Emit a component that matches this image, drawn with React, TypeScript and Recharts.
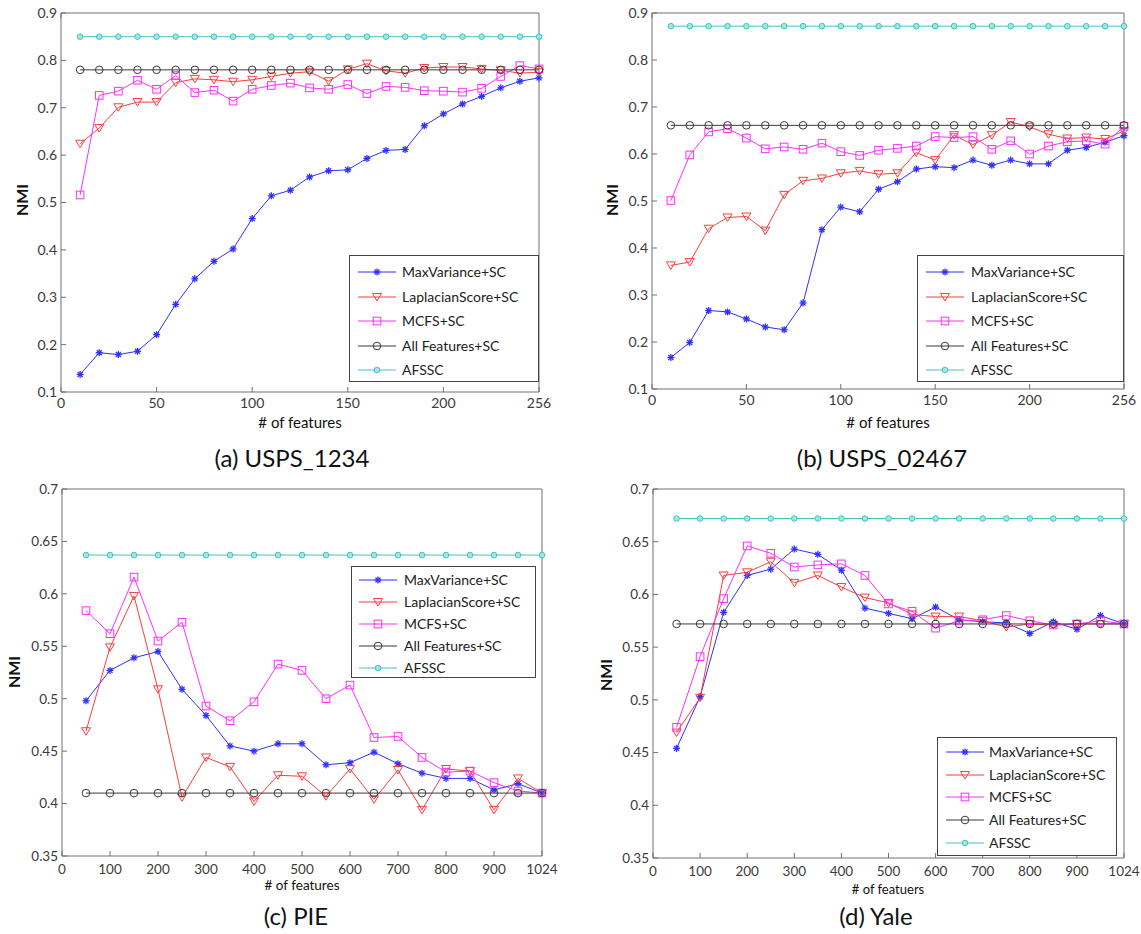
import React from "react";
import { LineChart, Line, XAxis, YAxis } from "recharts";

// feature counts on the x axis (last point = all features, drawn at the right edge)
const featuresUsps = [10, 20, 30, 40, 50, 60, 70, 80, 90, 100, 110, 120, 130, 140, 150, 160, 170, 180, 190, 200, 210, 220, 230, 240, 250];
const featuresFace = [50, 100, 150, 200, 250, 300, 350, 400, 450, 500, 550, 600, 650, 700, 750, 800, 850, 900, 950, 1000];

const uspsXTicks = [0, 50, 100, 150, 200, 250];
const uspsXTickLabels = ["0", "50", "100", "150", "200", "256"];
const faceXTicks = [0, 100, 200, 300, 400, 500, 600, 700, 800, 900, 1000];
const faceXTickLabels = ["0", "100", "200", "300", "400", "500", "600", "700", "800", "900", "1024"];
const uspsYTicks = [0.1, 0.2, 0.3, 0.4, 0.5, 0.6, 0.7, 0.8, 0.9];
const uspsYTickLabels = ["0.1", "0.2", "0.3", "0.4", "0.5", "0.6", "0.7", "0.8", "0.9"];
const faceYTicks = [0.35, 0.4, 0.45, 0.5, 0.55, 0.6, 0.65, 0.7];
const faceYTickLabels = ["0.35", "0.4", "0.45", "0.5", "0.55", "0.6", "0.65", "0.7"];

// (a) USPS_1234
const a_maxVar = [0.137, 0.183, 0.179, 0.186, 0.221, 0.285, 0.339, 0.376, 0.402, 0.466, 0.514, 0.526, 0.554, 0.567, 0.569, 0.593, 0.61, 0.612, 0.662, 0.687, 0.708, 0.724, 0.742, 0.756, 0.763];
const a_laplacian = [0.624, 0.657, 0.701, 0.712, 0.712, 0.753, 0.761, 0.759, 0.755, 0.759, 0.766, 0.773, 0.776, 0.756, 0.781, 0.793, 0.778, 0.773, 0.784, 0.786, 0.786, 0.782, 0.779, 0.773, 0.775];
const a_mcfs = [0.516, 0.726, 0.735, 0.758, 0.739, 0.768, 0.732, 0.737, 0.714, 0.739, 0.747, 0.752, 0.742, 0.739, 0.749, 0.73, 0.745, 0.743, 0.736, 0.735, 0.733, 0.741, 0.766, 0.789, 0.782];
const a_all = [0.78, 0.78, 0.78, 0.78, 0.78, 0.78, 0.78, 0.78, 0.78, 0.78, 0.78, 0.78, 0.78, 0.78, 0.78, 0.78, 0.78, 0.78, 0.78, 0.78, 0.78, 0.78, 0.78, 0.78, 0.78];
const a_afssc = [0.85, 0.85, 0.85, 0.85, 0.85, 0.85, 0.85, 0.85, 0.85, 0.85, 0.85, 0.85, 0.85, 0.85, 0.85, 0.85, 0.85, 0.85, 0.85, 0.85, 0.85, 0.85, 0.85, 0.85, 0.85];

// (b) USPS_02467
const b_maxVar = [0.167, 0.199, 0.267, 0.264, 0.249, 0.232, 0.226, 0.283, 0.439, 0.487, 0.477, 0.525, 0.541, 0.568, 0.573, 0.571, 0.587, 0.576, 0.587, 0.579, 0.579, 0.608, 0.614, 0.625, 0.639];
const b_laplacian = [0.363, 0.37, 0.441, 0.465, 0.467, 0.437, 0.513, 0.543, 0.548, 0.559, 0.564, 0.557, 0.559, 0.603, 0.587, 0.64, 0.62, 0.64, 0.668, 0.658, 0.642, 0.633, 0.635, 0.632, 0.649];
const b_mcfs = [0.501, 0.598, 0.647, 0.654, 0.634, 0.611, 0.615, 0.61, 0.623, 0.605, 0.597, 0.608, 0.612, 0.617, 0.637, 0.635, 0.637, 0.61, 0.628, 0.6, 0.617, 0.626, 0.628, 0.621, 0.659];
const b_all = [0.661, 0.661, 0.661, 0.661, 0.661, 0.661, 0.661, 0.661, 0.661, 0.661, 0.661, 0.661, 0.661, 0.661, 0.661, 0.661, 0.661, 0.661, 0.661, 0.661, 0.661, 0.661, 0.661, 0.661, 0.661];
const b_afssc = [0.872, 0.872, 0.872, 0.872, 0.872, 0.872, 0.872, 0.872, 0.872, 0.872, 0.872, 0.872, 0.872, 0.872, 0.872, 0.872, 0.872, 0.872, 0.872, 0.872, 0.872, 0.872, 0.872, 0.872, 0.872];

// (c) PIE
const c_maxVar = [0.498, 0.527, 0.539, 0.545, 0.509, 0.484, 0.455, 0.45, 0.457, 0.457, 0.437, 0.439, 0.449, 0.438, 0.429, 0.424, 0.424, 0.413, 0.419, 0.41];
const c_laplacian = [0.469, 0.549, 0.598, 0.509, 0.406, 0.444, 0.435, 0.402, 0.427, 0.426, 0.407, 0.433, 0.404, 0.432, 0.394, 0.433, 0.431, 0.394, 0.424, 0.41];
const c_mcfs = [0.584, 0.562, 0.616, 0.555, 0.573, 0.493, 0.479, 0.497, 0.533, 0.527, 0.5, 0.513, 0.463, 0.464, 0.444, 0.43, 0.431, 0.42, 0.412, 0.41];
const c_all = [0.41, 0.41, 0.41, 0.41, 0.41, 0.41, 0.41, 0.41, 0.41, 0.41, 0.41, 0.41, 0.41, 0.41, 0.41, 0.41, 0.41, 0.41, 0.41, 0.41];
const c_afssc = [0.637, 0.637, 0.637, 0.637, 0.637, 0.637, 0.637, 0.637, 0.637, 0.637, 0.637, 0.637, 0.637, 0.637, 0.637, 0.637, 0.637, 0.637, 0.637, 0.637];

// (d) Yale
const d_maxVar = [0.454, 0.503, 0.583, 0.618, 0.624, 0.643, 0.638, 0.623, 0.587, 0.582, 0.577, 0.588, 0.576, 0.574, 0.573, 0.563, 0.574, 0.567, 0.58, 0.572];
const d_laplacian = [0.469, 0.502, 0.618, 0.621, 0.631, 0.611, 0.618, 0.607, 0.597, 0.592, 0.581, 0.579, 0.579, 0.575, 0.569, 0.572, 0.571, 0.572, 0.572, 0.572];
const d_mcfs = [0.474, 0.541, 0.596, 0.646, 0.639, 0.626, 0.628, 0.629, 0.618, 0.591, 0.584, 0.568, 0.575, 0.576, 0.58, 0.575, 0.571, 0.572, 0.575, 0.572];
const d_all = [0.572, 0.572, 0.572, 0.572, 0.572, 0.572, 0.572, 0.572, 0.572, 0.572, 0.572, 0.572, 0.572, 0.572, 0.572, 0.572, 0.572, 0.572, 0.572, 0.572];
const d_afssc = [0.672, 0.672, 0.672, 0.672, 0.672, 0.672, 0.672, 0.672, 0.672, 0.672, 0.672, 0.672, 0.672, 0.672, 0.672, 0.672, 0.672, 0.672, 0.672, 0.672];

const FONT = "Lato, 'Open Sans', sans-serif";
const AXIS = "#707070";
const TICK_TEXT = "#3a3a3a";

const SERIES = [
  { key: "maxVar", name: "MaxVariance+SC", color: "#2f2fff", marker: "star" },
  { key: "laplacian", name: "LaplacianScore+SC", color: "#ff3c3c", marker: "tri" },
  { key: "mcfs", name: "MCFS+SC", color: "#ff2eff", marker: "square" },
  { key: "all", name: "All Features+SC", color: "#3a3a3a", marker: "circle" },
  { key: "afssc", name: "AFSSC", color: "#45c2c2", marker: "dot" },
];

function Marker({ cx, cy, kind, color }: { cx: number; cy: number; kind: string; color: string }) {
  if (cx == null || cy == null) return null;
  if (kind === "star") {
    return (
      <g stroke={color} strokeWidth={1.3}>
        <line x1={cx - 3.5} y1={cy} x2={cx + 3.5} y2={cy} />
        <line x1={cx} y1={cy - 3.5} x2={cx} y2={cy + 3.5} />
        <line x1={cx - 2.5} y1={cy - 2.5} x2={cx + 2.5} y2={cy + 2.5} />
        <line x1={cx - 2.5} y1={cy + 2.5} x2={cx + 2.5} y2={cy - 2.5} />
      </g>
    );
  }
  if (kind === "tri") {
    return <polygon points={`${cx - 4.5},${cy - 3.5} ${cx + 4.5},${cy - 3.5} ${cx},${cy + 4}`} fill="none" stroke={color} strokeWidth={1} />;
  }
  if (kind === "square") {
    return <rect x={cx - 3.8} y={cy - 3.8} width={7.6} height={7.6} fill="none" stroke={color} strokeWidth={1} />;
  }
  if (kind === "circle") {
    return <circle cx={cx} cy={cy} r={3.8} fill="none" stroke={color} strokeWidth={1} />;
  }
  return <circle cx={cx} cy={cy} r={2.8} fill="#a6e3e3" stroke={color} strokeWidth={1} />;
}

function Txt({ x, y, size, bold, rotate, children }: any) {
  return (
    <div
      style={{
        position: "absolute",
        left: x,
        top: y,
        transform: `translate(-50%, -50%)${rotate ? " rotate(-90deg)" : ""}`,
        fontSize: size,
        fontWeight: bold ? 700 : 400,
        lineHeight: 1,
        whiteSpace: "nowrap",
        color: "#111",
      }}
    >
      {children}
    </div>
  );
}

function LegendBox({ left, top, width, height, first, step, lineX, textX, size }: any) {
  return (
    <div style={{ position: "absolute", left, top, width, height, border: "1px solid #444", background: "#fff", boxSizing: "border-box" }}>
      {SERIES.map((s, i) => (
        <div key={s.key} style={{ position: "absolute", left: 0, top: first + i * step - 8, height: 16, width: "100%" }}>
          <svg width={40} height={16} style={{ position: "absolute", left: lineX, top: 0 }}>
            <line x1={0} y1={8} x2={38} y2={8} stroke={s.color} strokeWidth={1} />
            <Marker cx={19} cy={8} kind={s.marker} color={s.color} />
          </svg>
          <span style={{ position: "absolute", left: textX, top: 0, lineHeight: "16px", fontSize: size, color: "#222" }}>{s.name}</span>
        </div>
      ))}
    </div>
  );
}

function Panel(p: any) {
  const rows = p.xs.map((x: number, i: number) => ({
    x,
    maxVar: p.maxVar[i],
    laplacian: p.laplacian[i],
    mcfs: p.mcfs[i],
    all: p.all[i],
    afssc: p.afssc[i],
  }));
  const [L, T, W, H] = p.box;
  const [pl, pt, pr, pb] = p.plot;
  const xMax = p.xTicks[p.xTicks.length - 1];
  const yDomain = [p.yTicks[0], p.yTicks[p.yTicks.length - 1]];
  const tickStyle = { fontSize: p.tickSize, fill: TICK_TEXT, fontFamily: FONT };
  return (
    <div style={{ position: "absolute", left: L, top: T, width: W, height: H }}>
      <LineChart
        width={W}
        height={H}
        data={rows}
        margin={{ top: pt - T - 1, right: L + W - pr - 1, bottom: T + H - pb - 1, left: 0 }}
      >
        <XAxis
          dataKey="x"
          type="number"
          domain={[0, xMax]}
          ticks={p.xTicks}
          interval={0}
          height={1}
          tickSize={-5}
          tickMargin={p.xTickMargin}
          stroke={AXIS}
          tick={tickStyle}
          tickFormatter={(v: number) => p.xTickLabels[p.xTicks.indexOf(v)]}
        />
        <XAxis
          xAxisId="top"
          orientation="top"
          type="number"
          domain={[0, xMax]}
          ticks={p.xTicks}
          interval={0}
          height={1}
          tickSize={-5}
          stroke={AXIS}
          tick={tickStyle}
          tickFormatter={() => ""}
        />
        <YAxis
          type="number"
          domain={yDomain}
          ticks={p.yTicks}
          interval={0}
          width={pl - L}
          tickSize={-5}
          tickMargin={9}
          stroke={AXIS}
          tick={tickStyle}
          tickFormatter={(v: number) => p.yTickLabels[p.yTicks.indexOf(v)]}
        />
        <YAxis
          yAxisId="right"
          orientation="right"
          type="number"
          domain={yDomain}
          ticks={p.yTicks}
          interval={0}
          width={1}
          tickSize={-5}
          stroke={AXIS}
          tick={tickStyle}
          tickFormatter={() => ""}
        />
        {SERIES.map((s) => (
          <Line
            key={s.key}
            type="linear"
            dataKey={s.key}
            name={s.name}
            stroke={s.color}
            strokeWidth={1}
            isAnimationActive={false}
            activeDot={false}
            dot={(d: any) => <Marker key={`${s.key}-${d.index}`} cx={d.cx} cy={d.cy} kind={s.marker} color={s.color} />}
          />
        ))}
      </LineChart>
    </div>
  );
}

export default function App() {
  return (
    <div style={{ position: "absolute", left: 0, top: 0, width: 1141, height: 934, background: "#fff", fontFamily: FONT, overflow: "hidden" }}>
      <Panel
        box={[0, 0, 570, 440]}
        plot={[61, 13, 539, 392]}
        xs={featuresUsps}
        xTicks={uspsXTicks}
        xTickLabels={uspsXTickLabels}
        yTicks={uspsYTicks}
        yTickLabels={uspsYTickLabels}
        tickSize={14}
        xTickMargin={11}
        maxVar={a_maxVar}
        laplacian={a_laplacian}
        mcfs={a_mcfs}
        all={a_all}
        afssc={a_afssc}
      />
      <Panel
        box={[570, 0, 571, 440]}
        plot={[652, 13, 1124, 389]}
        xs={featuresUsps}
        xTicks={uspsXTicks}
        xTickLabels={uspsXTickLabels}
        yTicks={uspsYTicks}
        yTickLabels={uspsYTickLabels}
        tickSize={14}
        xTickMargin={11}
        maxVar={b_maxVar}
        laplacian={b_laplacian}
        mcfs={b_mcfs}
        all={b_all}
        afssc={b_afssc}
      />
      <Panel
        box={[0, 445, 570, 460]}
        plot={[62, 489, 542, 856]}
        xs={featuresFace}
        xTicks={faceXTicks}
        xTickLabels={faceXTickLabels}
        yTicks={faceYTicks}
        yTickLabels={faceYTickLabels}
        tickSize={13.5}
        xTickMargin={13}
        maxVar={c_maxVar}
        laplacian={c_laplacian}
        mcfs={c_mcfs}
        all={c_all}
        afssc={c_afssc}
      />
      <Panel
        box={[570, 445, 571, 460]}
        plot={[653, 489, 1124, 858]}
        xs={featuresFace}
        xTicks={faceXTicks}
        xTickLabels={faceXTickLabels}
        yTicks={faceYTicks}
        yTickLabels={faceYTickLabels}
        tickSize={13.5}
        xTickMargin={13}
        maxVar={d_maxVar}
        laplacian={d_laplacian}
        mcfs={d_mcfs}
        all={d_all}
        afssc={d_afssc}
      />

      <LegendBox left={349} top={255} width={190} height={127} first={16} step={24.5} lineX={8} textX={52} size={14} />
      <LegendBox left={917} top={255} width={207} height={127} first={16} step={24.5} lineX={8} textX={53} size={14} />
      <LegendBox left={351} top={566} width={185} height={112} first={13} step={22} lineX={7} textX={52} size={14} />
      <LegendBox left={937} top={737} width={180} height={119} first={14} step={22.7} lineX={8} textX={51} size={14} />

      <Txt x={22} y={200} size={16} bold rotate>NMI</Txt>
      <Txt x={612} y={200} size={16} bold rotate>NMI</Txt>
      <Txt x={14} y={672} size={16} bold rotate>NMI</Txt>
      <Txt x={606} y={675} size={16} bold rotate>NMI</Txt>

      <Txt x={300} y={422} size={15}># of features</Txt>
      <Txt x={888} y={422} size={15}># of features</Txt>
      <Txt x={302} y={886} size={13.5}># of features</Txt>
      <Txt x={888} y={889} size={13}># of featuers</Txt>

      <Txt x={292} y={458} size={24}>(a) USPS_1234</Txt>
      <Txt x={882} y={458} size={24}>(b) USPS_02467</Txt>
      <Txt x={296} y={916} size={24}>(c) PIE</Txt>
      <Txt x={876} y={916} size={24}>(d) Yale</Txt>
    </div>
  );
}
